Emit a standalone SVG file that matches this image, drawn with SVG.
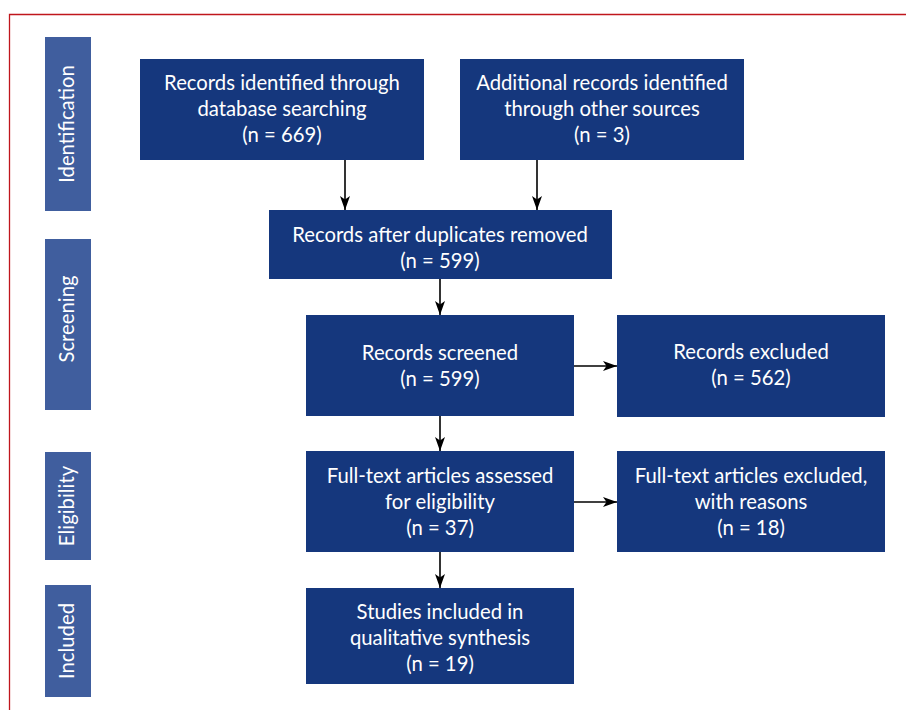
<svg xmlns="http://www.w3.org/2000/svg" width="906" height="710" viewBox="0 0 906 710">
<style>
.box{fill:#15377d}
.side{fill:#405e9e}
.t{font-family:"Lato","Open Sans","Liberation Sans",sans-serif;font-size:20.3px;fill:#ffffff;text-anchor:middle}
.c{stroke:#000;stroke-width:1.6;fill:none;marker-end:url(#ah)}
</style>
<defs>
<marker id="ah" viewBox="0 0 14 10" refX="14" refY="5" markerWidth="14" markerHeight="10" markerUnits="userSpaceOnUse" orient="auto">
<path d="M0,0 L14,5 L0,10 L3.5,5 Z" fill="#000"/>
</marker>
</defs>
<rect width="906" height="710" fill="#fff"/>
<path d="M9.5,710 V14.5 H906" fill="none" stroke="#c0161c" stroke-width="1.3"/>
<g id="side-identification"><rect class="side" x="45" y="37" width="46" height="174"/><text class="t" transform="translate(74,124) rotate(-90)">Identification</text></g>
<g id="side-screening"><rect class="side" x="45" y="239" width="46" height="171"/><text class="t" transform="translate(74,319) rotate(-90)">Screening</text></g>
<g id="side-eligibility"><rect class="side" x="45" y="452" width="46" height="108"/><text class="t" transform="translate(74,506) rotate(-90)">Eligibility</text></g>
<g id="side-included"><rect class="side" x="45" y="585" width="46" height="112"/><text class="t" transform="translate(74,641) rotate(-90)">Included</text></g>
<g id="n1"><rect class="box" x="140" y="59" width="284" height="101"/><text class="t" x="282" y="90">Records identified through</text><text class="t" x="282" y="116">database searching</text><text class="t" x="282" y="142">(n = 669)</text></g>
<g id="n2"><rect class="box" x="460" y="59" width="284" height="101"/><text class="t" x="602" y="90">Additional records identified</text><text class="t" x="602" y="116">through other sources</text><text class="t" x="602" y="142">(n = 3)</text></g>
<g id="n3"><rect class="box" x="269" y="210" width="343" height="69"/><text class="t" x="440" y="242">Records after duplicates removed</text><text class="t" x="440" y="268">(n = 599)</text></g>
<g id="n4"><rect class="box" x="306" y="315" width="268" height="101"/><text class="t" x="440" y="360">Records screened</text><text class="t" x="440" y="386">(n = 599)</text></g>
<g id="n5"><rect class="box" x="617" y="315" width="268" height="102"/><text class="t" x="751" y="359">Records excluded</text><text class="t" x="751" y="385">(n = 562)</text></g>
<g id="n6"><rect class="box" x="306" y="451" width="268" height="101"/><text class="t" x="440" y="483">Full-text articles assessed</text><text class="t" x="440" y="509">for eligibility</text><text class="t" x="440" y="535">(n = 37)</text></g>
<g id="n7"><rect class="box" x="617" y="451" width="268" height="101"/><text class="t" x="751" y="483">Full-text articles excluded,</text><text class="t" x="751" y="509">with reasons</text><text class="t" x="751" y="535">(n = 18)</text></g>
<g id="n8"><rect class="box" x="306" y="588" width="268" height="96"/><text class="t" x="440" y="619">Studies included in</text><text class="t" x="440" y="645">qualitative synthesis</text><text class="t" x="440" y="671">(n = 19)</text></g>
<g id="connectors">
<line class="c" x1="345" y1="160" x2="345" y2="210"/>
<line class="c" x1="537" y1="160" x2="537" y2="210"/>
<line class="c" x1="440" y1="279" x2="440" y2="315"/>
<line class="c" x1="574" y1="366" x2="617" y2="366"/>
<line class="c" x1="440" y1="416" x2="440" y2="451"/>
<line class="c" x1="574" y1="502" x2="617" y2="502"/>
<line class="c" x1="440" y1="552" x2="440" y2="588"/>
</g>
</svg>
